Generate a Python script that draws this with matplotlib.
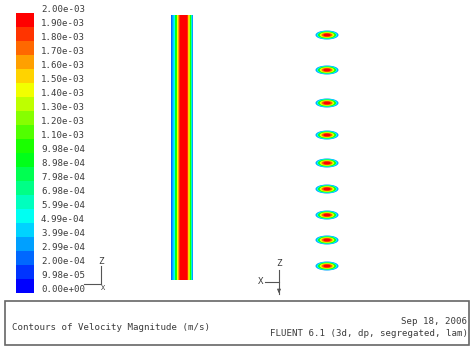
import numpy as np
import matplotlib
matplotlib.use("Agg")
import matplotlib.pyplot as plt
from matplotlib.colors import ListedColormap, BoundaryNorm, LinearSegmentedColormap
from matplotlib.patches import Ellipse, Rectangle

# ---- data ----
cbar_values = [0.0, 9.98e-05, 2.00e-04, 2.99e-04, 3.99e-04, 4.99e-04, 5.99e-04,
               6.98e-04, 7.98e-04, 8.98e-04, 9.98e-04, 1.10e-03, 1.20e-03,
               1.30e-03, 1.40e-03, 1.50e-03, 1.60e-03, 1.70e-03, 1.80e-03,
               1.90e-03, 2.00e-03]
cbar_labels = ["%.2e" % v for v in cbar_values]

# velocity across the pipe width (one value per pixel column, left to right)
pipe_profile = [2.5e-4, 3.5e-4, 4.5e-4, 5.5e-4, 9.0e-4, 1.05e-3, 1.4e-3,
                1.65e-3, 1.8e-3, 1.92e-3, 1.95e-3, 1.97e-3, 1.98e-3, 1.97e-3,
                1.95e-3, 1.92e-3, 1.8e-3, 1.5e-3, 1.35e-3, 1.05e-3, 6.0e-4, 3.0e-4]

# cross-section blobs (vertical positions) and their nested contour levels
blob_y = [35, 70, 103, 135, 163, 189, 215, 240, 266]
blob_levels = [3.0e-4, 5.5e-4, 1.0e-3, 1.45e-3, 1.75e-3, 1.95e-3]
blob_size = [1.0, 0.9, 0.78, 0.63, 0.48, 0.32]

title_left = "Contours of Velocity Magnitude (m/s)"
title_right1 = "Sep 18, 2006"
title_right2 = "FLUENT 6.1 (3d, dp, segregated, lam)"

# ---- colormap (FLUENT rainbow, 20 bands) ----
base = LinearSegmentedColormap.from_list(
    "fl", [(0, 0, 1), (0, 1, 1), (0, 1, 0), (1, 1, 0), (1, 0, 0)])
nb = len(cbar_values) - 1
cmap = ListedColormap([base(i / (nb - 1)) for i in range(nb)])
norm = BoundaryNorm(cbar_values, nb)

fig = plt.figure(figsize=(4.72, 3.54), dpi=100)
ax = fig.add_axes([0, 0, 1, 1])
ax.axis("off")

txt_kw = dict(family="DejaVu Sans Mono", fontsize=6.6, color="#3c3c3c")

# colorbar
mids = [(cbar_values[i] + cbar_values[i + 1]) / 2 for i in range(nb)]
ax.imshow(np.array(mids)[::-1].reshape(-1, 1), cmap=cmap, norm=norm,
          extent=(16, 34, 293, 13), aspect="auto", interpolation="nearest")
for i, lab in enumerate(cbar_labels):
    ax.text(41, 290 - 14 * i, lab, ha="left", va="center", **txt_kw)

# pipe (longitudinal view)
ax.imshow(np.array(pipe_profile).reshape(1, -1), cmap=cmap, norm=norm,
          extent=(171, 193, 280, 15), aspect="auto", interpolation="nearest")

# cross-section blobs
for yc in blob_y:
    for lev, s in zip(blob_levels, blob_size):
        ax.add_patch(Ellipse((327, yc), 23 * s, 9 * s,
                             facecolor=cmap(norm(lev)), edgecolor="none"))

# axis triads
lc = "#555555"
ax.plot([101, 101], [284, 266], color=lc, lw=0.8)
ax.plot([84, 101], [284, 284], color=lc, lw=0.8)
ax.text(101, 262, "Z", ha="center", va="center", **txt_kw)
ax.text(103, 288, "X", ha="center", va="center", family="DejaVu Sans Mono",
        fontsize=5, color="#3c3c3c")

ax.plot([279, 279], [270, 294], color=lc, lw=0.8)
ax.plot([265, 279], [282, 282], color=lc, lw=0.8)
ax.annotate("", xy=(279, 296), xytext=(279, 288),
            arrowprops=dict(arrowstyle="-|>", color=lc, lw=0.8,
                            mutation_scale=5))
ax.text(279, 263, "Z", ha="center", va="center", **txt_kw)
ax.text(261, 282, "X", ha="center", va="center", **txt_kw)

# bottom title box
ax.add_patch(Rectangle((5, 301), 464, 44, facecolor="none",
                       edgecolor="#666666", lw=1.2))
ax.text(12, 327, title_left, ha="left", va="center", **txt_kw)
ax.text(467, 321, title_right1, ha="right", va="center", **txt_kw)
ax.text(468, 333, title_right2, ha="right", va="center", **txt_kw)

ax.set_xlim(0, 472)
ax.set_ylim(354, 0)
fig.savefig("out.png", dpi=100)
